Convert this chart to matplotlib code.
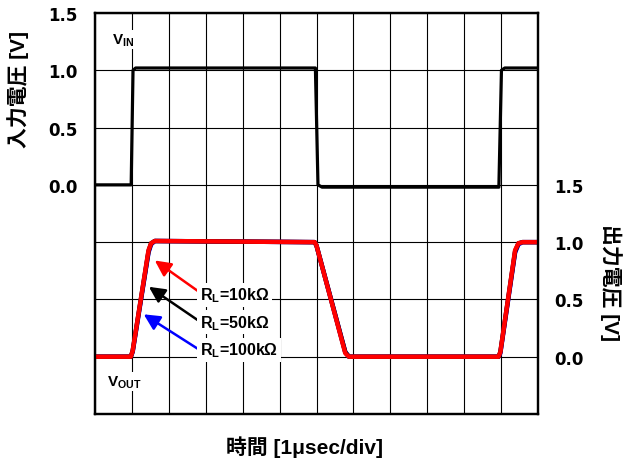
import matplotlib
matplotlib.use("Agg")
import matplotlib.pyplot as plt

plt.rcParams['font.family'] = ['Liberation Sans', 'Noto Sans CJK JP']
plt.rcParams['font.weight'] = 'bold'
plt.rcParams['mathtext.fontset'] = 'custom'
plt.rcParams['mathtext.rm'] = 'Liberation Sans:bold'
plt.rcParams['mathtext.bf'] = 'Liberation Sans:bold'
plt.rcParams['mathtext.it'] = 'Liberation Sans:bold'

# Input pulse (time in divisions, 1 usec/div)
vin_t = [0.0, 0.98, 1.03, 1.10, 5.97, 6.04, 6.15, 10.94, 11.01, 11.10, 12.0]
vin_v = [0.0, 0.0, 1.00, 1.02, 1.02, 0.00, -0.02, -0.02, 1.00, 1.02, 1.02]

# Output response for each load resistance
vout_t = [0.0, 0.97, 1.02, 1.45, 1.52, 1.62, 5.95, 6.00, 6.78, 6.88,
          10.93, 10.98, 11.38, 11.47, 11.58, 12.0]
vout_10k = [0.0, 0.0, 0.05, 0.93, 0.99, 1.01, 1.00, 0.97, 0.03, 0.00,
            0.00, 0.04, 0.93, 0.99, 1.00, 1.00]
vout_50k = [0.0, 0.0, 0.05, 0.92, 0.99, 1.01, 1.00, 0.97, 0.04, 0.00,
            0.00, 0.04, 0.92, 0.99, 1.00, 1.00]
vout_100k = [0.0, 0.0, 0.04, 0.91, 0.98, 1.01, 1.00, 0.97, 0.04, 0.00,
             0.00, 0.03, 0.91, 0.98, 1.00, 1.00]

x_ticks = list(range(0, 13))
left_ticks = [-2.0, -1.5, -1.0, -0.5, 0.0, 0.5, 1.0, 1.5]
left_labels = ['', '', '', '', '0.0', '0.5', '1.0', '1.5']
right_ticks = [-0.5, 0.0, 0.5, 1.0, 1.5, 2.0, 2.5, 3.0]
right_labels = ['', '0.0', '0.5', '1.0', '1.5', '', '', '']

loads = ['R$_\\mathrm{L}$=10kΩ', 'R$_\\mathrm{L}$=50kΩ', 'R$_\\mathrm{L}$=100kΩ']

tick_font = dict(family='DejaVu Sans', size=12, weight='bold')

fig = plt.figure(figsize=(6.24, 4.64), dpi=100)
ax = fig.add_axes([95/624, 1-415/464, 443/624, 401/464])
ax.set_xlim(0, 12)
ax.set_ylim(-2.0, 1.5)
ax.set_xticks(x_ticks)
ax.set_xticklabels([])
ax.set_yticks(left_ticks)
ax.set_yticklabels(left_labels, fontdict=tick_font)
ax.grid(True, color='black', lw=0.8)
ax.tick_params(length=0, pad=12.5)
for s in ax.spines.values():
    s.set_linewidth(1.6)

ax.plot(vin_t, vin_v, color='black', lw=2.3, solid_joinstyle='round')

ax2 = ax.twinx()
ax2.set_ylim(-0.5, 3.0)
ax2.set_yticks(right_ticks)
ax2.set_yticklabels(right_labels, fontdict=tick_font)
ax2.tick_params(length=0, pad=11.5)
for s in ax2.spines.values():
    s.set_linewidth(1.6)

ax2.plot(vout_t, vout_100k, color='#0000ff', lw=3.2, solid_joinstyle='round')
ax2.plot(vout_t, vout_50k, color='black', lw=3.2, solid_joinstyle='round')
ax2.plot(vout_t, vout_10k, color='#ff0000', lw=3.2, solid_joinstyle='round')

ax.text(0.45, 1.27, 'V$_\\mathrm{IN}$', fontsize=11, fontweight='bold',
        ha='left', va='center', bbox=dict(fc='white', ec='none', pad=1))
ax2.text(0.32, -0.22, 'V$_\\mathrm{OUT}$', fontsize=11, fontweight='bold',
         ha='left', va='center', bbox=dict(fc='white', ec='none', pad=1))

arrow_colors = ['#ff0000', 'black', '#0000ff']
arrow_heads = [(1.62, 0.84), (1.46, 0.61), (1.32, 0.37)]
arrow_tails = [(2.78, 0.575), (2.78, 0.32), (2.78, 0.07)]
label_y = [0.54, 0.30, 0.06]
for name, c, head, tail, ly in zip(loads, arrow_colors, arrow_heads, arrow_tails, label_y):
    ax2.annotate('', xy=head, xytext=tail,
                 arrowprops=dict(arrowstyle='-|>', color=c, lw=1.8,
                                 mutation_scale=24, shrinkA=0, shrinkB=0))
    ax2.text(2.85, ly, name, fontsize=11.5, fontweight='bold', ha='left', va='center',
             bbox=dict(fc='white', ec='none', pad=2))

fig.text(18/624, 1-89/464, '入力電圧 [V]', rotation=90, fontsize=15, fontweight='bold',
         ha='center', va='center')
fig.text(611/624, 1-283/464, '出力電圧 [V]', rotation=270, fontsize=15, fontweight='bold',
         ha='center', va='center')
fig.text(304/624, 1-447/464, '時間 [1μsec/div]', fontsize=15, fontweight='bold',
         ha='center', va='center')

fig.savefig('out.png', dpi=100)
